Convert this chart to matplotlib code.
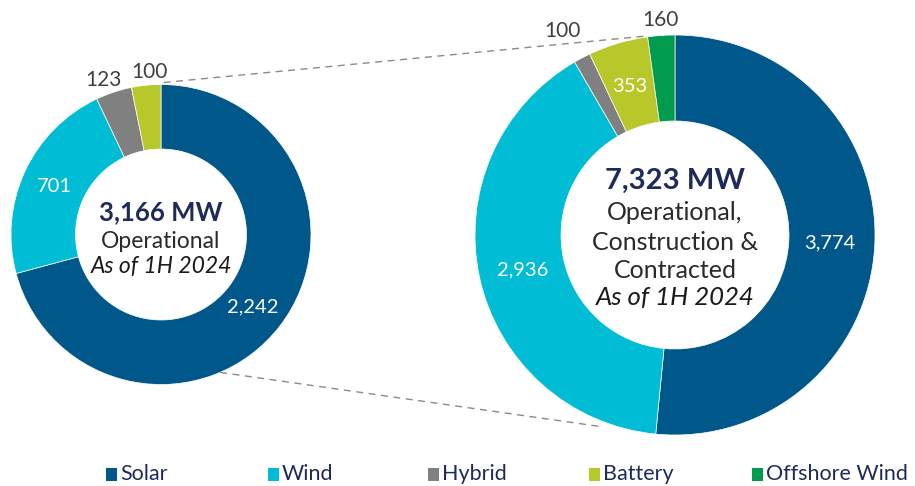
import numpy as np
import matplotlib
matplotlib.use("Agg")
import matplotlib.pyplot as plt
from matplotlib.patches import Rectangle

# ---- data ----
left_categories = ["Solar", "Wind", "Hybrid", "Battery"]
left_values = [2242, 701, 123, 100]
right_categories = ["Solar", "Wind", "Hybrid", "Battery", "Offshore Wind"]
right_values = [3774, 2936, 100, 353, 160]
legend_labels = ["Solar", "Wind", "Hybrid", "Battery", "Offshore Wind"]
left_total_label = "3,166 MW"
right_total_label = "7,323 MW"

colors = {
    "Solar": "#00578A",
    "Wind": "#00BCD4",
    "Hybrid": "#808080",
    "Battery": "#B8C72A",
    "Offshore Wind": "#009B4C",
}
NAVY = "#1E2B5A"
FONT = ["Lato", "DejaVu Sans"]

W, H = 915, 486
fig = plt.figure(figsize=(W / 100, H / 100), dpi=100)
ax = fig.add_axes([0, 0, 1, 1])
ax.set_xlim(0, W)
ax.set_ylim(0, H)
ax.set_aspect("equal")
ax.axis("off")


def py(y):
    return H - y


# geometry
LC, LR = (161, py(234.5)), 150
RC, RR = (675, py(235)), 200
ring = 0.43

ax.pie(left_values, colors=[colors[c] for c in left_categories], startangle=90,
       counterclock=False, center=LC, radius=LR,
       wedgeprops=dict(width=LR * ring, edgecolor="white", linewidth=0.5))
ax.pie(right_values, colors=[colors[c] for c in right_categories], startangle=90,
       counterclock=False, center=RC, radius=RR,
       wedgeprops=dict(width=RR * ring, edgecolor="white", linewidth=0.5))
ax.set_xlim(0, W)
ax.set_ylim(0, H)


def polar(center, r, deg_from_top_cw):
    a = np.deg2rad(deg_from_top_cw)
    return center[0] + r * np.sin(a), center[1] + r * np.cos(a)


# connector dashed lines
off_angle = 360 * (1 - right_values[-1] / sum(right_values))
p1 = polar(LC, LR + 2, 1)
p2 = polar(RC, RR + 1, off_angle)
ax.plot([p1[0], p2[0]], [p1[1], p2[1]], color="#8a8a8a", lw=1, dashes=(5, 4))
p3 = polar(LC, LR, 156.8)
p4 = polar(RC, RR + 5, 200.6)
ax.plot([p3[0], p4[0]], [p3[1], p4[1]], color="#8a8a8a", lw=1, dashes=(5, 4))


def lab(x, y, s, color="white", size=14.5):
    ax.text(x, py(y), s, ha="center", va="center", fontsize=size, color=color,
            family=FONT)


lab(54, 187, f"{left_values[1]:,}")
lab(253, 307, f"{left_values[0]:,}")
lab(103, 80, f"{left_values[2]:,}", color="#404040", size=15)
lab(149, 72, f"{left_values[3]:,}", color="#404040", size=15)

lab(830, 243, f"{right_values[0]:,}")
lab(523, 270, f"{right_values[1]:,}")
lab(630, 86, f"{right_values[3]:,}")
lab(562, 31, f"{right_values[2]:,}", color="#404040", size=15)
lab(660, 20, f"{right_values[4]:,}", color="#404040", size=15)

# center texts
ax.text(LC[0], py(212), left_total_label, ha="center", va="center", fontsize=18.5,
        fontweight="bold", color=NAVY, family=FONT)
ax.text(LC[0], py(241), "Operational", ha="center", va="center", fontsize=16.5,
        color="#2a2a2a", family=FONT)
ax.text(LC[0], py(267), "As of 1H 2024", ha="center", va="center", fontsize=16.5,
        color="#1a1a1a", family=FONT, style="italic")

ax.text(RC[0], py(181), right_total_label, ha="center", va="center", fontsize=21,
        fontweight="bold", color=NAVY, family=FONT)
for yy, s in [(213, "Operational,"), (242, "Construction &"), (270, "Contracted")]:
    ax.text(RC[0], py(yy), s, ha="center", va="center", fontsize=18,
            color="#2a2a2a", family=FONT)
ax.text(RC[0], py(298), "As of 1H 2024", ha="center", va="center", fontsize=18.5,
        color="#1a1a1a", family=FONT, style="italic")

# legend
leg_x = [106, 268, 428, 589, 752]
for x, name in zip(leg_x, legend_labels):
    ax.add_patch(Rectangle((x, py(481)), 11, 13, color=colors[name], lw=0))
    ax.text(x + 14, py(474), name, ha="left", va="center", fontsize=15.5,
            color=NAVY, family=FONT)

fig.savefig("out.png", dpi=100)
